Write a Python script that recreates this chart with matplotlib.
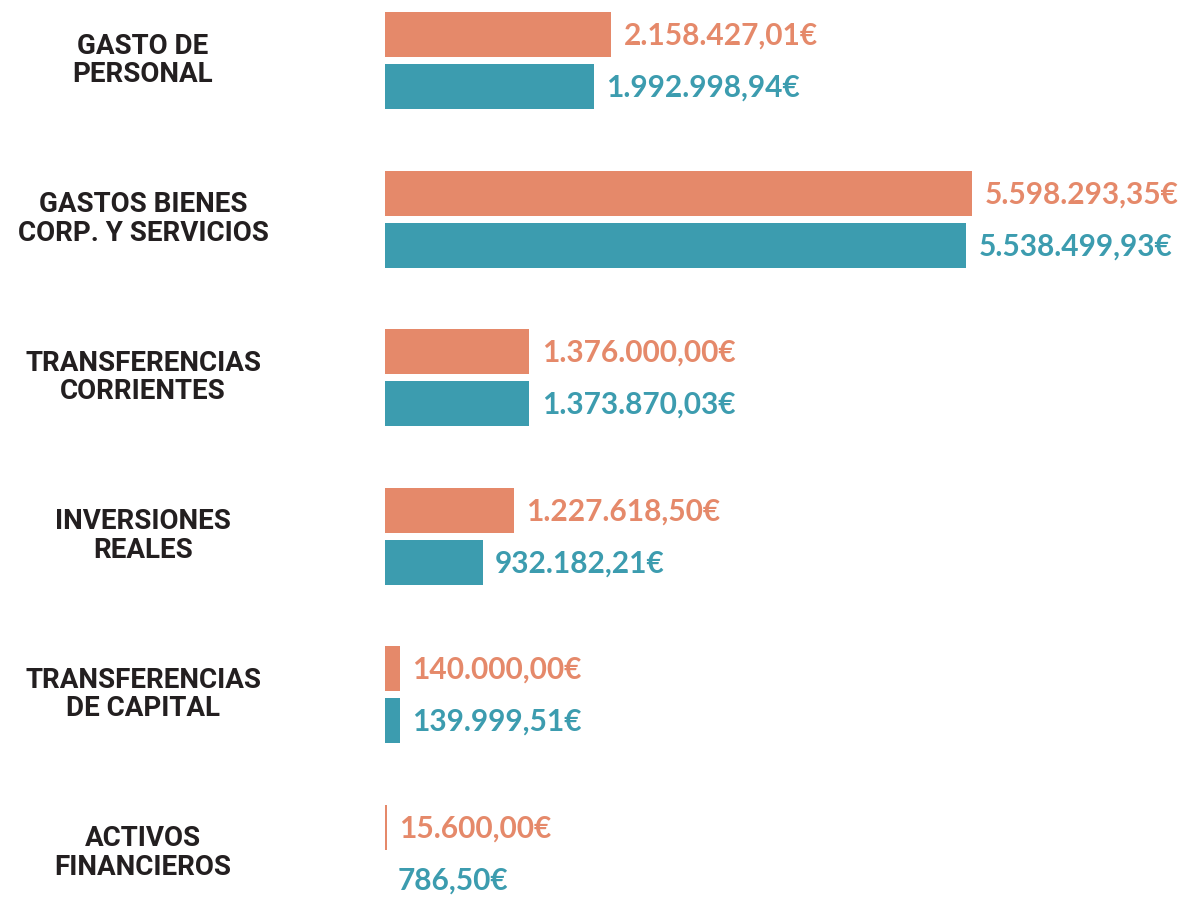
import matplotlib.pyplot as plt
import matplotlib.transforms as mtransforms
import numpy as np

# gasto: presupuestado (naranja) y ejecutado (azul)
categorias = ['GASTO DE\nPERSONAL', 'GASTOS BIENES\nCORP. Y SERVICIOS',
              'TRANSFERENCIAS\nCORRIENTES', 'INVERSIONES\nREALES',
              'TRANSFERENCIAS\nDE CAPITAL', 'ACTIVOS\nFINANCIEROS']
presupuesto = [2158427.01, 5598293.35, 1376000.00, 1227618.50, 140000.00, 15600.00]
ejecutado = [1992998.94, 5538499.93, 1373870.03, 932182.21, 139999.51, 786.50]

naranja = '#E5896A'
azul = '#3C9CAF'

def euros(v):
    s = '{:,.2f}'.format(v)
    return s.replace(',', 'X').replace('.', ',').replace('X', '.') + '€'

fig = plt.figure(figsize=(11.86, 8.99), dpi=100)
ax = fig.add_axes([385 / 1186, 0, 801 / 1186, 1])

y = np.arange(len(categorias))
h = 45 / 158.5
off = 26 / 158.5
ax.barh(y - off, presupuesto, height=h, color=naranja)
ax.barh(y + off, ejecutado, height=h, color=azul)

ax.set_xlim(0, 5598293.35 * 801 / 587)
ax.set_ylim((899 - 60.5) / 158.5, -60.5 / 158.5)
ax.axis('off')

for i in range(len(categorias)):
    ax.annotate(euros(presupuesto[i]), (presupuesto[i], y[i] - off),
                xytext=(9, -1), textcoords='offset points', va='center',
                ha='left', color=naranja, fontsize=21.5, fontweight='bold',
                family=['Lato', 'DejaVu Sans'])
    ax.annotate(euros(ejecutado[i]), (ejecutado[i], y[i] + off),
                xytext=(9, -1), textcoords='offset points', va='center',
                ha='left', color=azul, fontsize=21.5, fontweight='bold',
                family=['Lato', 'DejaVu Sans'])

trans = mtransforms.blended_transform_factory(fig.transFigure, ax.transData)
for i, c in enumerate(categorias):
    fig.text(143 / 1186, y[i], c, transform=trans, ha='center', va='center',
             fontsize=20, fontweight='bold', color='#231F20', linespacing=1.05,
             family=['Liberation Sans Narrow', 'Roboto', 'DejaVu Sans'])

fig.savefig('out.png', dpi=100)
